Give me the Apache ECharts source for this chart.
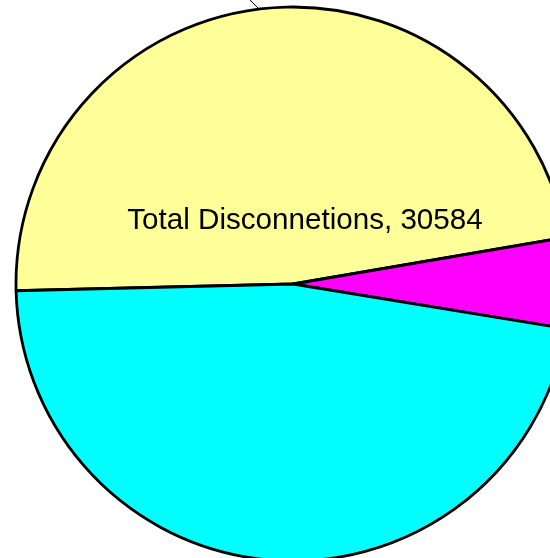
<!DOCTYPE html>
<html>
<head>
<meta charset="utf-8">
<style>
  html, body { margin: 0; padding: 0; background: #fff; }
  #chart { width: 550px; height: 558px; }
</style>
<script src="https://cdn.jsdelivr.net/npm/echarts@6/dist/echarts.min.js"></script>
</head>
<body>
<div id="chart"></div>
<script>
// Disconnection breakdown
const categories = ['Total Disconnetions', 'Pending', 'Reconnected'];
const values = [30584, 3385, 30160];
const colors = ['#FFFF99', '#FF00FF', '#00FFFF'];

const chart = echarts.init(document.getElementById('chart'), null, { renderer: 'canvas' });

const data = categories.map((name, i) => ({
  name: name,
  value: values[i],
  itemStyle: { color: colors[i] },
  label: { show: i === 0 }
}));

chart.setOption({
  animation: false,
  backgroundColor: '#ffffff',
  series: [{
    type: 'pie',
    center: [293, 284],
    radius: 277,
    startAngle: 181.4,
    clockwise: true,
    silent: true,
    data: data,
    itemStyle: { borderColor: '#000000', borderWidth: 2.8 },
    label: {
      position: 'inside',
      formatter: '{b}, {c}',
      color: '#000000',
      fontFamily: 'Liberation Sans, Arial, sans-serif',
      fontSize: 29.6
    },
    labelLayout: { x: 305, y: 221, align: 'center', verticalAlign: 'middle' },
    labelLine: { show: false }
  }],
  graphic: [{
    type: 'line',
    shape: { x1: 246, y1: -4, x2: 260, y2: 10 },
    style: { stroke: '#000000', lineWidth: 1 }
  }]
});
</script>
</body>
</html>
